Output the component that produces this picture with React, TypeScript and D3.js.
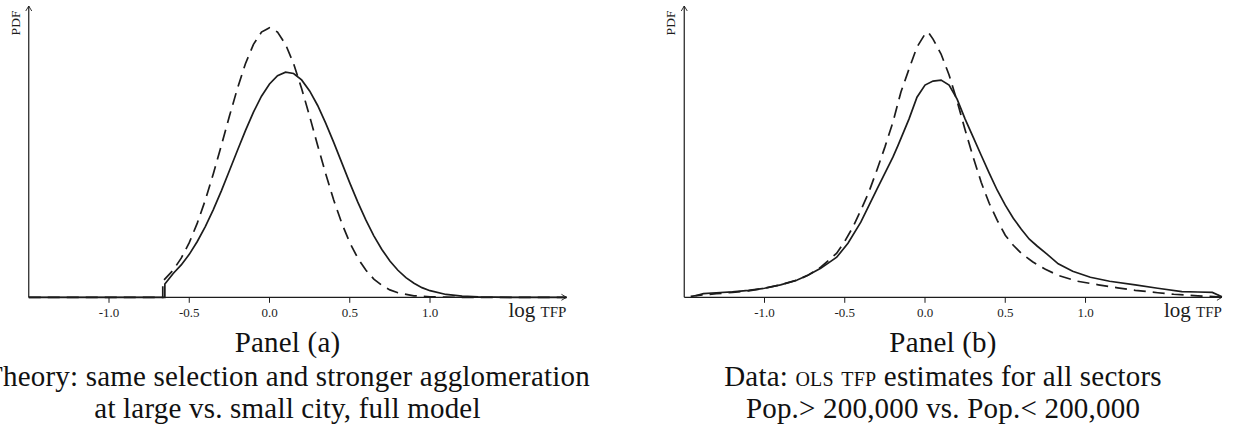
import React from "react";
import * as d3 from "d3";

// ---------- data ----------
const xTicks = [-1.0, -0.5, 0.0, 0.5, 1.0];
const xTickLabels = ["-1.0", "-0.5", "0.0", "0.5", "1.0"];

// Panel (a): theory, small city (dashed) vs large city (solid)
const theorySmallCity: [number, number][] = [
  [-1.5, 0], [-0.665, 0], [-0.665, 0.085], [-0.6, 0.144], [-0.55, 0.207], [-0.5, 0.289],
  [-0.45, 0.392], [-0.4, 0.514], [-0.35, 0.653], [-0.3, 0.803], [-0.25, 0.957], [-0.2, 1.104],
  [-0.15, 1.235], [-0.1, 1.337], [-0.05, 1.402], [0, 1.425], [0.05, 1.402], [0.1, 1.337],
  [0.15, 1.235], [0.2, 1.104], [0.25, 0.957], [0.3, 0.803], [0.35, 0.653], [0.4, 0.514],
  [0.45, 0.392], [0.5, 0.289], [0.55, 0.207], [0.6, 0.144], [0.65, 0.096], [0.7, 0.063],
  [0.75, 0.039], [0.8, 0.024], [0.9, 0.008], [1.0, 0.0024], [1.1, 0.0006], [1.2, 0], [1.85, 0],
];
const theoryLargeCity: [number, number][] = [
  [-1.5, 0], [-0.652, 0], [-0.652, 0.07], [-0.6, 0.126], [-0.55, 0.171], [-0.5, 0.227],
  [-0.45, 0.295], [-0.4, 0.374], [-0.35, 0.464], [-0.3, 0.563], [-0.25, 0.669], [-0.2, 0.776],
  [-0.15, 0.881], [-0.1, 0.979], [-0.05, 1.063], [0, 1.128], [0.05, 1.172], [0.1, 1.19],
  [0.15, 1.183], [0.2, 1.149], [0.25, 1.091], [0.3, 1.014], [0.35, 0.921], [0.4, 0.819],
  [0.45, 0.712], [0.5, 0.605], [0.55, 0.503], [0.6, 0.409], [0.65, 0.325], [0.7, 0.253],
  [0.75, 0.192], [0.8, 0.143], [0.85, 0.104], [0.9, 0.074], [0.95, 0.051], [1.0, 0.035],
  [1.1, 0.015], [1.2, 0.006], [1.3, 0.002], [1.4, 0.0006], [1.5, 0], [1.85, 0],
];

// Panel (b): data, Pop. < 200,000 (dashed) vs Pop. > 200,000 (solid)
const dataSmallCity: [number, number][] = [
  [-1.46, 0.005], [-1.4, 0.011], [-1.3, 0.019], [-1.2, 0.026], [-1.1, 0.034], [-1.0, 0.048],
  [-0.9, 0.066], [-0.8, 0.09], [-0.73, 0.116], [-0.65, 0.159], [-0.55, 0.233], [-0.5, 0.296],
  [-0.45, 0.37], [-0.4, 0.46], [-0.35, 0.556], [-0.3, 0.672], [-0.25, 0.794], [-0.2, 0.926],
  [-0.15, 1.085], [-0.1, 1.206], [-0.05, 1.323], [0.0, 1.392], [0.02, 1.402], [0.05, 1.365],
  [0.1, 1.286], [0.15, 1.175], [0.2, 1.037], [0.25, 0.884], [0.3, 0.741], [0.35, 0.608],
  [0.4, 0.497], [0.45, 0.407], [0.5, 0.328], [0.55, 0.275], [0.6, 0.233], [0.67, 0.188],
  [0.75, 0.148], [0.83, 0.116], [0.95, 0.085], [1.08, 0.066], [1.2, 0.05], [1.31, 0.037],
  [1.45, 0.024], [1.55, 0.016], [1.7, 0.008], [1.85, 0.001],
];
const dataLargeCity: [number, number][] = [
  [-1.43, 0.008], [-1.38, 0.019], [-1.3, 0.024], [-1.2, 0.029], [-1.1, 0.037], [-1.0, 0.048],
  [-0.9, 0.066], [-0.8, 0.09], [-0.73, 0.116], [-0.65, 0.153], [-0.55, 0.212], [-0.48, 0.286],
  [-0.4, 0.397], [-0.3, 0.571], [-0.2, 0.741], [-0.17, 0.799], [-0.1, 0.942], [-0.05, 1.058],
  [0.0, 1.122], [0.05, 1.143], [0.1, 1.148], [0.15, 1.122], [0.2, 1.048], [0.25, 0.942],
  [0.3, 0.847], [0.35, 0.751], [0.4, 0.656], [0.45, 0.566], [0.5, 0.487], [0.55, 0.418],
  [0.6, 0.36], [0.65, 0.307], [0.7, 0.27], [0.76, 0.228], [0.83, 0.177], [0.92, 0.138],
  [1.03, 0.106], [1.15, 0.085], [1.31, 0.066], [1.45, 0.048], [1.6, 0.03], [1.7, 0.028],
  [1.79, 0.026], [1.85, 0.003],
];

const captionsA = ["Panel (a)", "Theory: same selection and stronger agglomeration", "at large vs. small city, full model"];

// ---------- layout ----------
const W = 1234;
const H = 432;
const xDomain: [number, number] = [-1.5, 1.85];
const yDomain: [number, number] = [0, 1.54];
const plotW = 537.7;
const y0 = 297.3;
const yTop = 6;
const ink = "#1c1c1c";
const serif = "'Liberation Serif', 'Times New Roman', serif";

type PanelProps = {
  left: number;
  dashed: [number, number][];
  solid: [number, number][];
  center: number;
  captions: React.ReactNode[];
};

function Panel({ left, dashed, solid, center, captions }: PanelProps) {
  const x = d3.scaleLinear().domain(xDomain).range([left, left + plotW]);
  const y = d3.scaleLinear().domain(yDomain).range([y0, yTop]);
  const line = d3
    .line<[number, number]>()
    .x((d) => x(d[0]))
    .y((d) => y(d[1]))
    .curve(d3.curveLinear);
  const xL = x(xDomain[0]);
  const xR = x(xDomain[1]);
  const baselines = [352, 386, 418];
  return (
    <g>
      {/* y axis with arrow */}
      <line x1={xL} y1={y0} x2={xL} y2={yTop} stroke={ink} strokeWidth={1.2} />
      <path d={`M${xL - 3},${yTop + 5} L${xL},${yTop} L${xL + 3},${yTop + 5}`} fill="none" stroke={ink} strokeWidth={0.9} />
      {/* x axis with arrow */}
      <line x1={xL} y1={y0} x2={xR} y2={y0} stroke={ink} strokeWidth={1.2} />
      <path d={`M${xR - 5},${y0 - 3} L${xR},${y0} L${xR - 5},${y0 + 3}`} fill="none" stroke={ink} strokeWidth={0.9} />
      {xTicks.map((t, i) => (
        <g key={i}>
          <line x1={x(t)} x2={x(t)} y1={y0} y2={y0 + 5.5} stroke={ink} strokeWidth={1} />
          <text x={x(t)} y={317} textAnchor="middle" fontFamily={serif} fontSize={13} fill={ink}>
            {xTickLabels[i]}
          </text>
        </g>
      ))}
      <text x={xR} y={317} textAnchor="end" fontFamily={serif} fontSize={21} fill={ink}>
        log <tspan fontVariant="small-caps">tfp</tspan>
      </text>
      <text
        transform={`translate(${xL - 9},${23}) rotate(-90)`}
        textAnchor="middle"
        fontFamily={serif}
        fontSize={13.5}
        fill={ink}
      >
        PDF
      </text>
      {/* curves */}
      <path d={line(dashed) || ""} fill="none" stroke={ink} strokeWidth={1.7} strokeDasharray="12,7" />
      <path d={line(solid) || ""} fill="none" stroke={ink} strokeWidth={1.7} />
      {captions.map((c, i) => (
        <text
          key={i}
          x={center}
          y={baselines[i]}
          textAnchor="middle"
          fontFamily={serif}
          fontSize={29}
          letterSpacing={0.2}
          fill="#111"
        >
          {c}
        </text>
      ))}
    </g>
  );
}

export default function App() {
  return (
    <svg
      width={W}
      height={H}
      viewBox={`0 0 ${W} ${H}`}
      style={{ position: "absolute", left: 0, top: 0, background: "#fff" }}
    >
      <rect x={0} y={0} width={W} height={H} fill="#fff" />
      <Panel
        left={28.75}
        dashed={theorySmallCity}
        solid={theoryLargeCity}
        center={287.5}
        captions={captionsA}
      />
      <Panel
        left={684.25}
        dashed={dataSmallCity}
        solid={dataLargeCity}
        center={943}
        captions={[
          "Panel (b)",
          <>
            Data: <tspan fontVariant="small-caps">ols tfp</tspan> estimates for all sectors
          </>,
          "Pop.> 200,000 vs. Pop.< 200,000",
        ]}
      />
    </svg>
  );
}
